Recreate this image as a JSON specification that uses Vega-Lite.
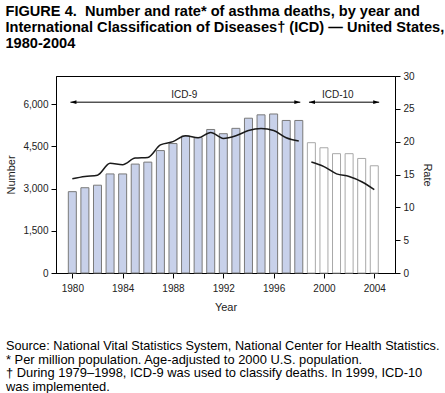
{
  "$schema": "https://vega.github.io/schema/vega-lite/v6.json",
  "padding": {"left": 5, "top": 3, "right": 2, "bottom": 0},
  "background": "white",
  "title": {
    "text": ["FIGURE 4.\u00a0 Number and rate* of asthma deaths, by year and", "International Classification of Diseases† (ICD) — United States,", "1980-2004"],
    "anchor": "start",
    "frame": "bounds",
    "font": "Liberation Sans",
    "fontSize": 14.6,
    "fontWeight": "bold",
    "lineHeight": 16,
    "color": "#000000",
    "offset": 20
  },
  "datasets": {
    "deaths": [
      {"year": 1980, "number": 2890, "rate": 14.35, "icd": "ICD-9"},
      {"year": 1981, "number": 3030, "rate": 14.7, "icd": "ICD-9"},
      {"year": 1982, "number": 3120, "rate": 14.9, "icd": "ICD-9"},
      {"year": 1983, "number": 3520, "rate": 16.7, "icd": "ICD-9"},
      {"year": 1984, "number": 3520, "rate": 16.5, "icd": "ICD-9"},
      {"year": 1985, "number": 3870, "rate": 17.5, "icd": "ICD-9"},
      {"year": 1986, "number": 3940, "rate": 17.6, "icd": "ICD-9"},
      {"year": 1987, "number": 4350, "rate": 19.5, "icd": "ICD-9"},
      {"year": 1988, "number": 4600, "rate": 20.0, "icd": "ICD-9"},
      {"year": 1989, "number": 4870, "rate": 20.9, "icd": "ICD-9"},
      {"year": 1990, "number": 4810, "rate": 20.6, "icd": "ICD-9"},
      {"year": 1991, "number": 5100, "rate": 21.4, "icd": "ICD-9"},
      {"year": 1992, "number": 4950, "rate": 20.5, "icd": "ICD-9"},
      {"year": 1993, "number": 5140, "rate": 20.9, "icd": "ICD-9"},
      {"year": 1994, "number": 5500, "rate": 21.7, "icd": "ICD-9"},
      {"year": 1995, "number": 5620, "rate": 22.0, "icd": "ICD-9"},
      {"year": 1996, "number": 5650, "rate": 21.7, "icd": "ICD-9"},
      {"year": 1997, "number": 5420, "rate": 20.6, "icd": "ICD-9"},
      {"year": 1998, "number": 5420, "rate": 20.1, "icd": "ICD-9"},
      {"year": 1999, "number": 4630, "rate": 16.9, "icd": "ICD-10"},
      {"year": 2000, "number": 4450, "rate": 16.2, "icd": "ICD-10"},
      {"year": 2001, "number": 4240, "rate": 15.1, "icd": "ICD-10"},
      {"year": 2002, "number": 4240, "rate": 14.7, "icd": "ICD-10"},
      {"year": 2003, "number": 4070, "rate": 13.9, "icd": "ICD-10"},
      {"year": 2004, "number": 3810, "rate": 12.7, "icd": "ICD-10"}
    ],
    "periods": [
      {"label": "ICD-9", "from": 1979.85, "to": 1998.12, "mid": 1988.9, "arrowAt": 6070, "labelAt": 6330},
      {"label": "ICD-10", "from": 1998.81, "to": 2004.39, "mid": 2001.1, "arrowAt": 6070, "labelAt": 6330}
    ]
  },
  "vconcat": [
    {
      "width": 339,
      "height": 197,
      "title": {
        "text": "Source: National Vital Statistics System, National Center for Health Statistics.",
        "subtitle": ["* Per million population. Age-adjusted to 2000 U.S. population.", "† During 1979–1998, ICD-9 was used to classify deaths. In 1999, ICD-10", "   was implemented."],
        "orient": "bottom",
        "anchor": "start",
        "frame": "bounds",
        "font": "Liberation Sans",
        "fontSize": 12.7,
        "fontWeight": "normal",
        "lineHeight": 14,
        "color": "#000000",
        "subtitleFont": "Liberation Sans",
        "subtitleFontSize": 12.9,
        "subtitleLineHeight": 13.3,
        "subtitleColor": "#000000",
        "subtitlePadding": 1.5,
        "offset": 28
      },
      "layer": [
        {
          "layer": [
            {
              "data": {"name": "deaths"},
              "mark": {"type": "bar", "width": 8, "strokeWidth": 1},
              "encoding": {
                "x": {"field": "year", "type": "quantitative", "scale": {"domain": [1979.1, 2005.25], "nice": false, "zero": false},
                  "axis": {"title": "Year", "values": [1980,1981,1982,1983,1984,1985,1986,1987,1988,1989,1990,1991,1992,1993,1994,1995,1996,1997,1998,1999,2000,2001,2002,2003,2004], "format": "d", "labelExpr": "datum.value % 4 == 0 ? format(datum.value, 'd') : ''", "tickSize": 5, "labelPadding": 5, "titlePadding": 8, "labelOverlap": false, "labelFlush": false}},
                "y": {"field": "number", "type": "quantitative", "scale": {"domain": [0, 7000], "nice": false},
                  "axis": {"title": "Number", "orient": "left", "values": [0, 1500, 3000, 4500, 6000], "format": ",d", "labelExpr": "format(datum.value, ',')", "tickSize": 5, "labelPadding": 3, "titlePadding": 6}},
                "fill": {"field": "icd", "type": "nominal", "scale": {"domain": ["ICD-9", "ICD-10"], "range": ["#c8d1ea", "#ffffff"]}, "legend": null},
                "stroke": {"field": "icd", "type": "nominal", "scale": {"domain": ["ICD-9", "ICD-10"], "range": ["#7a7a7a", "#a8a8a8"]}, "legend": null}
              }
            },
            {
              "data": {"name": "periods"},
              "mark": {"type": "rule", "color": "#000000", "strokeWidth": 1},
              "encoding": {
                "x": {"field": "from", "type": "quantitative"},
                "x2": {"field": "to"},
                "y": {"field": "arrowAt", "type": "quantitative"}
              }
            },
            {
              "data": {"name": "periods"},
              "mark": {"type": "point", "shape": "M0,0L2,-0.65L2,0.65Z", "size": 36, "filled": true, "color": "#000000", "opacity": 1},
              "encoding": {
                "x": {"field": "from", "type": "quantitative"},
                "y": {"field": "arrowAt", "type": "quantitative"}
              }
            },
            {
              "data": {"name": "periods"},
              "mark": {"type": "point", "shape": "M0,0L-2,-0.65L-2,0.65Z", "size": 36, "filled": true, "color": "#000000", "opacity": 1},
              "encoding": {
                "x": {"field": "to", "type": "quantitative"},
                "y": {"field": "arrowAt", "type": "quantitative"}
              }
            },
            {
              "data": {"name": "periods"},
              "mark": {"type": "text", "font": "Liberation Sans", "fontSize": 10, "color": "#222222", "baseline": "middle", "align": "center"},
              "encoding": {
                "x": {"field": "mid", "type": "quantitative"},
                "y": {"field": "labelAt", "type": "quantitative"},
                "text": {"field": "label"}
              }
            }
          ]
        },
        {
          "data": {"name": "deaths"},
          "mark": {"type": "line", "color": "#1a1a1a", "strokeWidth": 1.5, "interpolate": "monotone"},
          "encoding": {
            "x": {"field": "year", "type": "quantitative"},
            "y": {"field": "rate", "type": "quantitative", "scale": {"domain": [0, 30], "nice": false},
              "axis": {"title": "Rate", "orient": "right", "values": [0, 5, 10, 15, 20, 25, 30], "tickSize": 5, "labelPadding": 3, "titlePadding": 7}},
            "detail": {"field": "icd", "type": "nominal"}
          }
        }
      ],
      "resolve": {"scale": {"y": "independent"}}
    }
  ],
  "config": {
    "font": "Liberation Sans",
    "view": {"stroke": "#000000", "strokeWidth": 1},
    "axis": {
      "grid": false,
      "domainColor": "#000000",
      "tickColor": "#000000",
      "labelColor": "#222222",
      "labelFont": "Liberation Sans",
      "labelFontSize": 10,
      "titleFont": "Liberation Sans",
      "titleFontSize": 11,
      "titleFontWeight": "normal",
      "titleColor": "#222222"
    }
  }
}
